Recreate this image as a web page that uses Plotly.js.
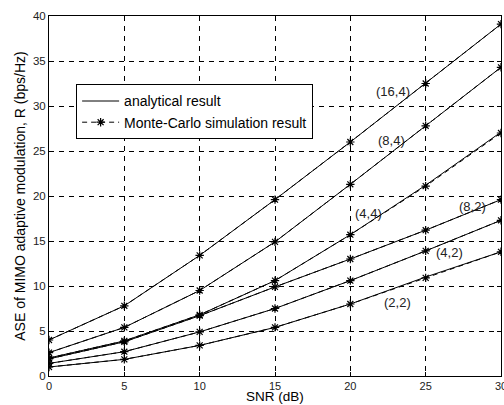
<!DOCTYPE html>
<html>
<head>
<meta charset="utf-8">
<script src="https://cdn.plot.ly/plotly-3.0.1.min.js"></script>
<style>html,body{margin:0;padding:0;background:#fff;}#chart{width:504px;height:405px;}</style>
</head>
<body>
<div id="chart"></div>
<script>
const snr = [0, 5, 10, 15, 20, 25, 30];
const configs = ["(16,4)", "(8,4)", "(4,4)", "(8,2)", "(4,2)", "(2,2)"];
const ana_16_4 = [4.0, 7.8, 13.4, 19.6, 26.0, 32.5, 39.1];
const ana_8_4  = [2.6, 5.4, 9.5, 14.9, 21.3, 27.8, 34.3];
const ana_4_4  = [2.0, 3.9, 6.8, 10.6, 15.7, 21.2, 27.1];
const ana_8_2  = [1.9, 3.8, 6.7, 9.9, 13.0, 16.2, 19.6];
const ana_4_2  = [1.4, 2.7, 4.9, 7.5, 10.6, 13.9, 17.3];
const ana_2_2  = [1.0, 1.85, 3.4, 5.4, 8.0, 11.0, 13.8];
const sim_16_4 = [4.0, 7.8, 13.4, 19.6, 26.0, 32.5, 39.1];
const sim_8_4  = [2.6, 5.4, 9.5, 14.9, 21.3, 27.8, 34.3];
const sim_4_4  = [2.0, 3.9, 6.8, 10.6, 15.7, 21.1, 27.0];
const sim_8_2  = [1.9, 3.8, 6.7, 9.9, 13.0, 16.2, 19.6];
const sim_4_2  = [1.4, 2.7, 4.9, 7.5, 10.6, 13.9, 17.3];
const sim_2_2  = [1.0, 1.85, 3.4, 5.4, 8.0, 10.9, 13.8];
const anaSeries = [ana_16_4, ana_8_4, ana_4_4, ana_8_2, ana_4_2, ana_2_2];
const simSeries = [sim_16_4, sim_8_4, sim_4_4, sim_8_2, sim_4_2, sim_2_2];
const labelX = [22.8, 22.7, 21.2, 28.1, 26.6, 23.1];
const labelY = [31.6, 26.2, 18.1, 18.8, 13.7, 8.2];
const xTitle = 'SNR (dB)';

const FONT = 'Liberation Sans, Arial, sans-serif';
const traces = [];
anaSeries.forEach((ys, i) => {
  traces.push({
    x: snr, y: ys, type: 'scatter', mode: 'lines',
    line: {color: '#000', width: 1},
    name: 'analytical result', legendgroup: 'ana', showlegend: i === 0
  });
});
simSeries.forEach((ys, i) => {
  traces.push({
    x: snr, y: ys, type: 'scatter', mode: 'lines+markers',
    line: {color: '#000', width: 1, dash: '5px,4px'},
    marker: {symbol: 'asterisk-open', size: 7, color: '#000', line: {color: '#000', width: 1.2}},
    name: 'Monte-Carlo simulation result', legendgroup: 'sim', showlegend: i === 0
  });
});

const annotations = configs.map((c, i) => ({
  x: labelX[i], y: labelY[i], xref: 'x', yref: 'y', text: c, showarrow: false,
  font: {family: FONT, size: 13, color: '#222'}
}));
annotations.push({
  x: 0.5, y: -0.058, xref: 'paper', yref: 'paper', xanchor: 'center', yanchor: 'middle',
  text: xTitle, showarrow: false, borderpad: 0,
  font: {family: FONT, size: 13.5, color: '#000'}
});

const axisCommon = {
  showline: true, linecolor: '#000', linewidth: 1, mirror: 'ticks',
  ticks: 'inside', ticklen: 4, tickcolor: '#000', tickwidth: 1,
  showgrid: true, gridcolor: '#000', gridwidth: 1, griddash: '5px,5px',
  zeroline: false, ticklabeloverflow: 'allow',
  tickfont: {family: FONT, size: 11.5, color: '#222'}
};

const layout = {
  width: 504, height: 405,
  margin: {l: 49, r: 3, t: 16, b: 29},
  paper_bgcolor: '#fff', plot_bgcolor: '#fff',
  showlegend: true,
  legend: {
    x: 0.06, y: 0.81, xanchor: 'left', yanchor: 'top',
    bgcolor: '#fff', bordercolor: '#000', borderwidth: 1,
    font: {family: FONT, size: 14, color: '#000'},
    tracegroupgap: 0, itemwidth: 37
  },
  xaxis: Object.assign({}, axisCommon, {
    range: [0, 30], tickvals: [0, 5, 10, 15, 20, 25, 30],
    ticklabelstandoff: 0,
    tickfont: {family: FONT, size: 11, color: '#222'}
  }),
  yaxis: Object.assign({}, axisCommon, {
    range: [0, 40], tickvals: [0, 5, 10, 15, 20, 25, 30, 35, 40],
    title: {text: 'ASE of MIMO adaptive modulation, R (bps/Hz)', standoff: 4, font: {family: FONT, size: 14, color: '#000'}}
  }),
  annotations: annotations
};

Plotly.newPlot('chart', traces, layout, {displayModeBar: false, staticPlot: true});
</script>
</body>
</html>
